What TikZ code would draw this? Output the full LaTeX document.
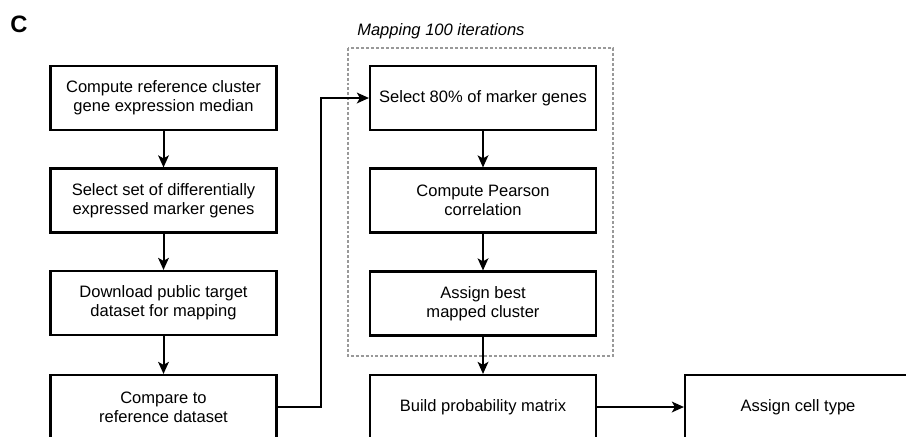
\documentclass[tikz,border=0pt]{standalone}
\usepackage{fontspec}
\setmainfont{Liberation Sans}
\usepackage{tikz}
\usetikzlibrary{arrows.meta,positioning}
\definecolor{framegray}{HTML}{999999}
\tikzset{
  ar/.style={-{Stealth[length=9pt,width=8pt,inset=2.2pt]},line width=1.5pt,black},
  box/.style={draw=black,line width=1.6pt,fill=white,align=center,
    minimum width=226pt*0.75,minimum height=64pt*0.75,inner sep=2pt,
    font=\fontsize{12.4}{14.4}\selectfont},
  loopbox/.style={draw=framegray,line width=1.6pt,dash pattern=on 2.2pt off 1.5pt}
}
\begin{document}
\begin{tikzpicture}[x=0.75pt,y=-0.75pt]
\clip (0,0) rectangle (906,436);
\useasboundingbox (0,0) rectangle (906,436);
\node[font=\fontsize{17.8}{20}\selectfont\bfseries] (lbl) at (19,24) {C};
% loop frame
\draw[loopbox] (348,48) rectangle (613,356);
\node[anchor=south west,inner sep=0pt,font=\fontsize{12.4}{14.4}\selectfont\itshape] (looptitle) at (357,39) {Mapping 100 iterations};
% left column
\node[box] (ref) at (163.5,98) {Compute reference cluster\\gene expression median};
\node[box] (deg) at (163.5,200.5) {Select set of differentially\\expressed marker genes};
\node[box] (dl) at (163.5,303) {Download public target\\dataset for mapping};
\node[box] (cmp) at (163.5,407) {Compare to\\reference dataset};
% right column
\node[box] (sel) at (483,98) {Select 80\% of marker genes};
\node[box] (pear) at (483,200.5) {Compute Pearson\\correlation};
\node[box] (best) at (483,303.5) {Assign best\\mapped cluster};
\node[box] (prob) at (483,407) {Build probability matrix};
\node[box] (cell) at (798,407) {Assign cell type};
% connectors
\draw[ar] (ref) -- (deg);
\draw[ar] (deg) -- (dl);
\draw[ar] (dl) -- (cmp);
\draw[ar] (cmp.east) -- ++(43,0) |- (sel.west);
\draw[ar] (sel) -- (pear);
\draw[ar] (pear) -- (best);
\draw[ar] (best) -- (prob);
\draw[ar] (prob) -- (cell);
\end{tikzpicture}
\end{document}
